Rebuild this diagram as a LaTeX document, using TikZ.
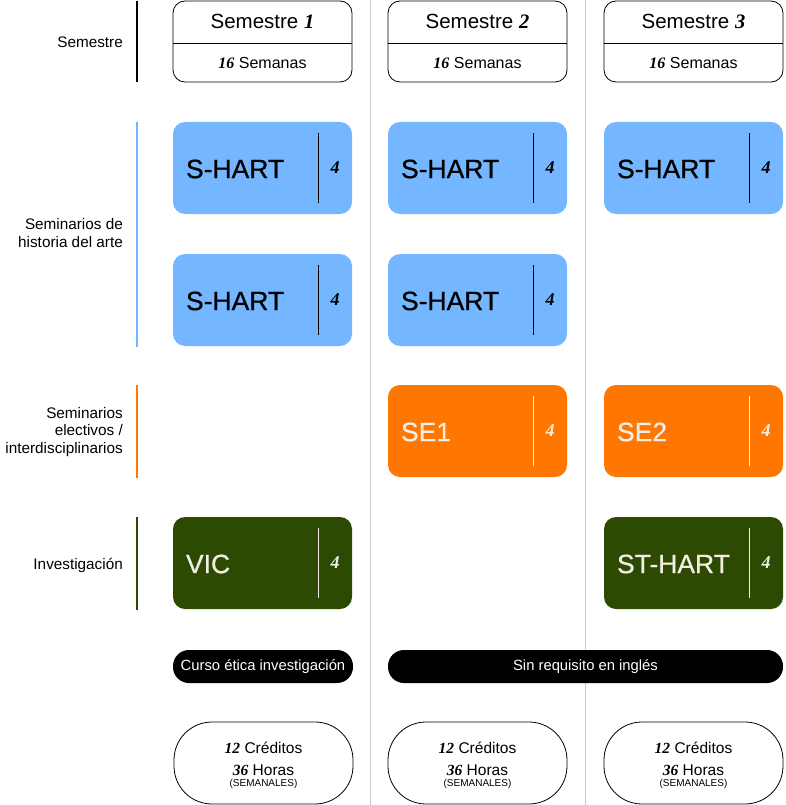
\documentclass[tikz,border=0pt]{standalone}
\usepackage{fontspec}
\setmainfont{Liberation Sans}
\newfontfamily\numfont{Liberation Serif}
\newfontfamily\medfont{Liberation Sans}[FakeBold=0.7]
\usetikzlibrary{calc}
\definecolor{hblue}{HTML}{74B6FF}
\definecolor{horange}{HTML}{FF7700}
\definecolor{hgreen}{HTML}{2D4A03}
\definecolor{hcream}{HTML}{F2EEE3}
\definecolor{hgrey}{HTML}{C8C8C8}
\newcommand{\nm}[1]{{\numfont\bfseries\itshape #1}}
\tikzset{
  sepline/.style={hgrey, line width=0.8pt},
  catbar/.style={line width=2.6pt},
  catlabel/.style={anchor=east, align=right, font=\fontsize{15.3}{17.5}\selectfont, inner sep=0pt},
  sembox/.style={draw, line width=0.8pt, rounded corners=12pt, minimum width=179pt, minimum height=81pt, inner sep=0pt},
  course/.style={rounded corners=12pt, minimum width=179pt, minimum height=92pt, inner sep=0pt},
  ctext/.style={anchor=west, font=\medfont\fontsize{26.5}{28}\selectfont, inner sep=0pt},
  cnum/.style={font=\fontsize{18}{19}\selectfont, inner sep=0pt},
  pill/.style={fill=black, text=white, rounded corners=16pt, minimum height=33pt, inner sep=0pt, font=\fontsize{14.8}{16}\selectfont},
  oval/.style={draw, line width=0.8pt, rounded corners=38pt, minimum width=179pt, minimum height=82pt, inner sep=0pt},
}
\begin{document}
\begin{tikzpicture}[x=1pt, y=-1pt]
\useasboundingbox (0,0) rectangle (786,805);
% column separators
\coordinate (sepAt) at (370,0); \coordinate (sepAb) at (370,805);
\coordinate (sepBt) at (585,0); \coordinate (sepBb) at (585,805);
\draw[sepline] (sepAt) -- (sepAb);
\draw[sepline] (sepBt) -- (sepBb);
% category bars
\coordinate (b1t) at (137,1); \coordinate (b1b) at (137,82);
\coordinate (b2t) at (137,122); \coordinate (b2b) at (137,347);
\coordinate (b3t) at (137,385); \coordinate (b3b) at (137,478);
\coordinate (b4t) at (137,517); \coordinate (b4b) at (137,610);
\draw[catbar, black] (b1t) -- (b1b);
\draw[catbar, hblue] (b2t) -- (b2b);
\draw[catbar, horange] (b3t) -- (b3b);
\draw[catbar, hgreen] (b4t) -- (b4b);
% category labels
\node[catlabel] (l1) at (123,42) {Semestre};
\node[catlabel] (l2) at (123,233) {Seminarios de\\historia del arte};
\node[catlabel] (l3) at (123,432) {Seminarios\\electivos /\\interdisciplinarios};
\node[catlabel] (l4) at (123,565) {Investigación};
% semester headers
\foreach \c/\x/\n in {1/262.5/1, 2/477.5/2, 3/693.5/3}{
  \node[sembox, fill=white] (sem\c) at (\x,41.5) {};
  \draw[line width=0.8pt] (sem\c.west |- 0,43) -- (sem\c.east |- 0,43);
  \node[font=\fontsize{20.5}{22}\selectfont] (semt\c) at (\x,21) {Semestre \nm{\n}};
  \node[font=\fontsize{16}{18}\selectfont] (semw\c) at (\x,63) {\nm{16} Semanas};
}
% courses
\foreach \name/\x/\y/\fc/\tc/\lab in {
  a1/262.5/168/hblue/black/S-HART, b1/477.5/168/hblue/black/S-HART, c1/693.5/168/hblue/black/S-HART,
  a2/262.5/300/hblue/black/S-HART, b2/477.5/300/hblue/black/S-HART,
  b3/477.5/431/horange/hcream/SE1, c3/693.5/431/horange/hcream/SE2,
  a4/262.5/563/hgreen/hcream/VIC, c4/693.5/563/hgreen/hcream/ST-HART}{
  \node[course, fill=\fc] (\name) at (\x,\y) {};
  \node[ctext, text=\tc] (\name t) at ($(\name.west)+(13,1)$) {\lab};
  \draw[\tc, line width=0.7pt] ($(\name.north east)+(-34,11)$) -- ($(\name.south east)+(-34,-11)$);
  \node[cnum, text=\tc] (\name n) at ($(\name.east)+(-17,0)$) {\nm{4}};
}
% pills
\node[pill, minimum width=180pt] (p1) at (263,666.5) {Curso ética investigación};
\node[pill, minimum width=395pt] (p2) at (585.5,666.5) {Sin requisito en inglés};
% credit ovals
\foreach \c/\x in {1/263.5, 2/477.5, 3/693.5}{
  \node[oval, fill=white] (ov\c) at (\x,763) {};
  \node[font=\fontsize{15.5}{17}\selectfont] (ova\c) at (\x,748) {\nm{12} Créditos};
  \node[font=\fontsize{15.5}{17}\selectfont] (ovb\c) at (\x,770) {\nm{36} Horas};
  \node[font=\fontsize{10}{11}\selectfont] (ovc\c) at (\x,783.5) {(SEMANALES)};
}
\end{tikzpicture}
\end{document}
